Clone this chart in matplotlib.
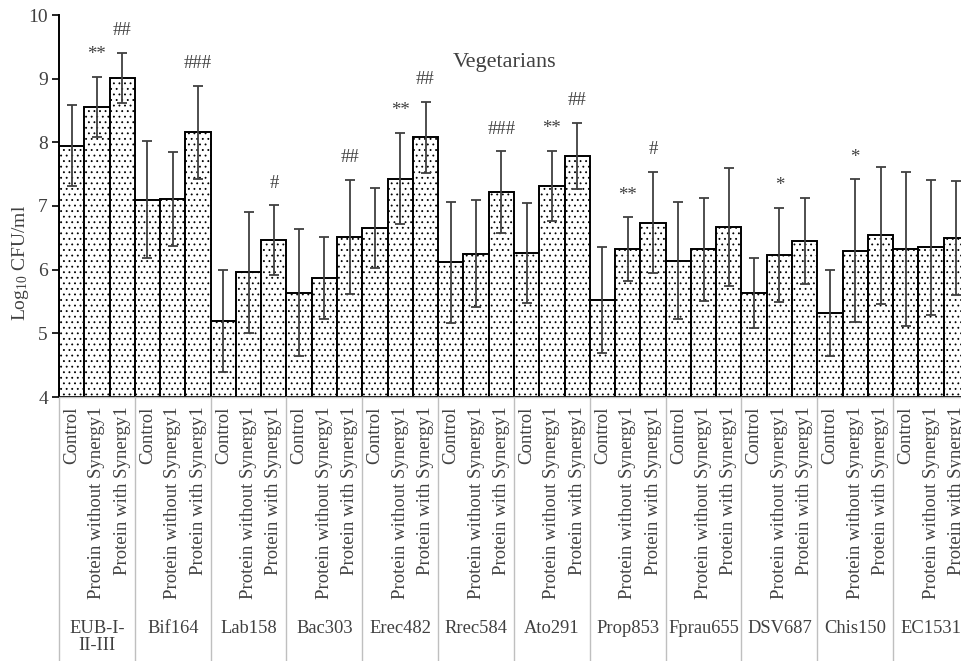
import numpy as np
import matplotlib
matplotlib.use("Agg")
import matplotlib.pyplot as plt
import matplotlib.transforms as mtransforms

plt.rcParams['font.family'] = ['Liberation Serif', 'DejaVu Serif']
plt.rcParams['mathtext.fontset'] = 'custom'
plt.rcParams['mathtext.rm'] = 'Liberation Serif'
plt.rcParams['hatch.linewidth'] = 0.6

# probes and treatments
probes = ['EUB-I-\nII-III', 'Bif164', 'Lab158', 'Bac303', 'Erec482', 'Rrec584',
          'Ato291', 'Prop853', 'Fprau655', 'DSV687', 'Chis150', 'EC1531']
treatments = ['Control', 'Protein without Synergy1', 'Protein with Synergy1']

# mean log10 CFU/ml, one row per probe: control, without, with
means = [
    [7.95, 8.56, 9.01],
    [7.10, 7.11, 8.16],
    [5.20, 5.96, 6.46],
    [5.64, 5.87, 6.51],
    [6.66, 7.43, 8.08],
    [6.12, 6.25, 7.22],
    [6.26, 7.32, 7.79],
    [5.52, 6.32, 6.74],
    [6.14, 6.32, 6.67],
    [5.64, 6.23, 6.45],
    [5.32, 6.30, 6.54],
    [6.32, 6.35, 6.50],
]

# standard deviations
sds = [
    [0.64, 0.47, 0.40],
    [0.92, 0.74, 0.73],
    [0.80, 0.95, 0.55],
    [1.00, 0.65, 0.90],
    [0.63, 0.72, 0.56],
    [0.95, 0.84, 0.64],
    [0.79, 0.55, 0.52],
    [0.83, 0.50, 0.80],
    [0.92, 0.81, 0.92],
    [0.55, 0.74, 0.68],
    [0.67, 1.12, 1.08],
    [1.21, 1.06, 0.90],
]

# significance marks: * vs control, # vs protein without Synergy1
marks = [
    ['', '**', '##'],
    ['', '', '###'],
    ['', '', '#'],
    ['', '', '##'],
    ['', '**', '##'],
    ['', '', '###'],
    ['', '**', '##'],
    ['', '**', '#'],
    ['', '', ''],
    ['', '*', ''],
    ['', '*', ''],
    ['', '', ''],
]

vals = np.array(means).ravel()
errs = np.array(sds).ravel()
labs = np.array(marks).ravel()
x = np.arange(len(vals))
text_col = '#404040'

fig = plt.figure(figsize=(9.61, 6.61), dpi=100)
ax = fig.add_axes([59 / 961, 264 / 661, 910 / 961, 382 / 661])

ax.bar(x, vals - 4, bottom=4, width=1.0, color='white', edgecolor='black',
       linewidth=1.4, hatch='...', zorder=2)
ax.errorbar(x, vals, yerr=errs, fmt='none', ecolor='#404040', elinewidth=1.3,
            capsize=3.5, capthick=1.3, zorder=3)

for xi, v, e, s in zip(x, vals, errs, labs):
    if s:
        ax.annotate(s, (xi, v + e), xytext=(0, 16), textcoords='offset points',
                    ha='center', va='center', fontsize=13.5, color=text_col)

ax.set_xlim(-0.5, len(vals) - 0.5)
ax.set_ylim(4, 10)
ax.set_yticks(np.arange(4, 11, 1))
ax.tick_params(axis='y', direction='out', length=5, width=1.2, colors='black',
               labelcolor=text_col, labelsize=14, pad=3)

ax.set_xticks(x)
ax.set_xticklabels(treatments * len(probes), rotation=90)
ax.tick_params(axis='x', length=0, pad=7, labelsize=13.5, labelcolor=text_col)

for side in ['top', 'right']:
    ax.spines[side].set_visible(False)
ax.spines['left'].set_linewidth(1.4)
ax.spines['left'].set_color('black')
ax.spines['bottom'].set_color('#bfbfbf')
ax.spines['bottom'].set_linewidth(1.0)

# group separators and probe names under the treatment labels
trans = mtransforms.blended_transform_factory(ax.transData, ax.transAxes)
for g in range(len(probes) + 1):
    ax.plot([3 * g - 0.5] * 2, [0, -0.7], transform=trans, color='#bfbfbf',
            linewidth=1.0, clip_on=False)
for g, name in enumerate(probes):
    ax.text(3 * g + 1, -0.585, name, transform=trans, ha='center', va='top',
            fontsize=13.3, color=text_col, linespacing=1.0)

ax.set_ylabel(r'Log$\mathregular{_{10}}$ CFU/ml', fontsize=14, color=text_col)
ax.yaxis.set_label_coords(-0.031, 0.35)

ax.text(0.49, 0.875, 'Vegetarians', transform=ax.transAxes, ha='center',
        va='center', fontsize=16, color=text_col)

fig.savefig('out.png', dpi=100)
